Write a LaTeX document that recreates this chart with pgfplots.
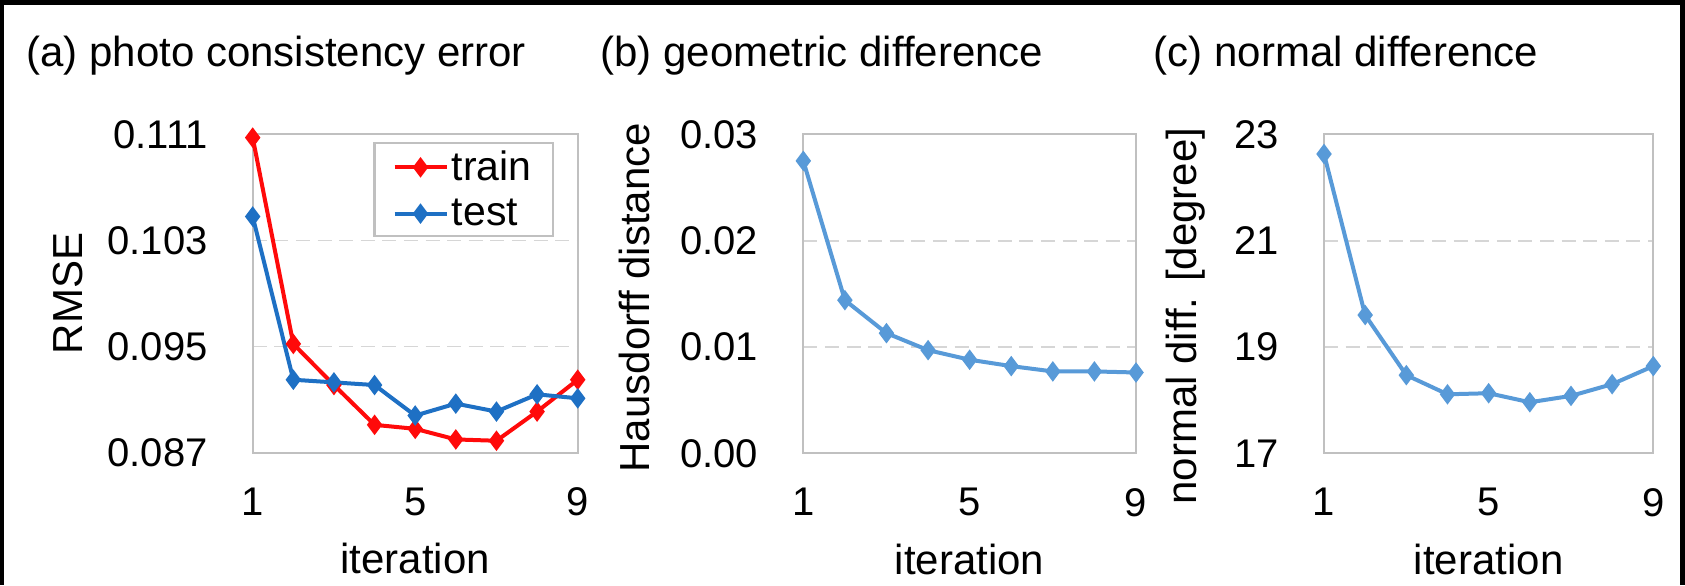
\documentclass[border=0pt]{standalone}
\usepackage{fontspec}
\setmainfont{Liberation Sans}
\usepackage{pgfplots}
\pgfplotsset{compat=1.18}
\definecolor{trainred}{RGB}{255,10,10}
\definecolor{testblue}{RGB}{30,112,196}
\definecolor{lightblue}{RGB}{88,154,216}
\definecolor{framegray}{RGB}{192,192,192}
\definecolor{gridgray}{RGB}{214,214,214}
\newcommand{\ff}{\fontsize{21}{25}\selectfont}
\newcommand{\tf}{\fontsize{20}{24}\selectfont}
\newcommand{\lf}{\fontsize{20.5}{24}\selectfont}
\pgfplotsset{panel/.style={
 scale only axis, clip=false,
 xmin=1,xmax=9, xtick={1,5,9},
 major tick length=0pt,
 axis line style={framegray,line width=1.1pt},
 ymajorgrids, grid style={gridgray,dash pattern=on 7pt off 3.8pt,line width=0.9pt},
 font=\ff,
 ticklabel style={font=\tf},
 /pgf/number format/assume math mode=true,
 scaled y ticks=false,
 yticklabel style={xshift=-19pt},
 xticklabel style={yshift=-14pt},
 xlabel=iteration,
 xlabel style={at={(axis description cs:0.5,-0.380)},anchor=base},
 every axis plot/.append style={line width=2pt, mark=diamond*, mark size=3.5pt},
 legend image code/.code={\draw[mark repeat=2,mark phase=2,##1] plot coordinates {(0pt,0pt) (13pt,0pt) (26pt,0pt)};},
}}
\begin{document}
\begin{tikzpicture}
\useasboundingbox (0,0) rectangle (842.5pt,292.5pt);
\fill[white] (0,0) rectangle (842.5pt,292.5pt);
% panel a
\begin{axis}[panel, at={(126.35pt,66.15pt)}, anchor=south west, width=162.5pt, height=159.2pt,
 ymin=0.087, ymax=0.111, ytick={0.087,0.095,0.103,0.111},
 yticklabel style={/pgf/number format/fixed, /pgf/number format/fixed zerofill, /pgf/number format/precision=3},
 ylabel=RMSE, ylabel style={at={(axis description cs:-0.524,0.5)},anchor=base},
 legend style={at={(axis description cs:0.927,0.975)}, anchor=north east, draw=framegray, line width=1.1pt, font=\lf, inner xsep=9pt, inner ysep=0pt, row sep=0pt, nodes={inner xsep=1.65pt, inner ysep=3.8pt}},
 legend cell align=left]
\addplot[color=trainred] coordinates {(1,0.11075) (2,0.0952) (3,0.0921) (4,0.0891) (5,0.0888) (6,0.0880) (7,0.0879) (8,0.0901) (9,0.0925)};
\addlegendentry{train}
\addplot[color=testblue] coordinates {(1,0.1048) (2,0.0925) (3,0.0923) (4,0.0921) (5,0.0898) (6,0.0907) (7,0.0901) (8,0.0914) (9,0.0911)};
\addlegendentry{test}
\end{axis}
% panel b
\begin{axis}[panel, at={(401.65pt,65.85pt)}, anchor=south west, width=166.35pt, height=159.5pt,
 ymin=0, ymax=0.03, ytick={0,0.01,0.02,0.03},
 yticklabel style={/pgf/number format/fixed, /pgf/number format/fixed zerofill, /pgf/number format/precision=2},
 ylabel={Hausdorff distance}, ylabel style={at={(axis description cs:-0.462,0.488)},anchor=base}]
\addplot[color=lightblue] coordinates {(1,0.0275) (2,0.0144) (3,0.0113) (4,0.0097) (5,0.0088) (6,0.0082) (7,0.0077) (8,0.0077) (9,0.0076)};
\end{axis}
% panel c
\begin{axis}[panel, at={(662pt,65.85pt)}, anchor=south west, width=164.65pt, height=159.5pt,
 ymin=17, ymax=23, ytick={17,19,21,23},
 ylabel={normal diff. [degree]}, ylabel style={at={(axis description cs:-0.386,0.430)},anchor=base}]
\addplot[color=lightblue] coordinates {(1,22.63) (2,19.60) (3,18.47) (4,18.11) (5,18.13) (6,17.96) (7,18.08) (8,18.30) (9,18.64)};
\end{axis}
\node[anchor=base west, font=\ff, inner sep=0pt] at (13pt,259pt) {(a) photo consistency error};
\node[anchor=base west, font=\ff, inner sep=0pt] at (300pt,259pt) {(b) geometric difference};
\node[anchor=base west, font=\ff, inner sep=0pt] at (576.75pt,259pt) {(c) normal difference};
\fill[black] (0,290pt) rectangle (842.5pt,292.5pt);
\fill[black] (0,0) rectangle (2pt,292.5pt);
\fill[black] (840pt,0) rectangle (842.5pt,292.5pt);
\end{tikzpicture}
\end{document}
